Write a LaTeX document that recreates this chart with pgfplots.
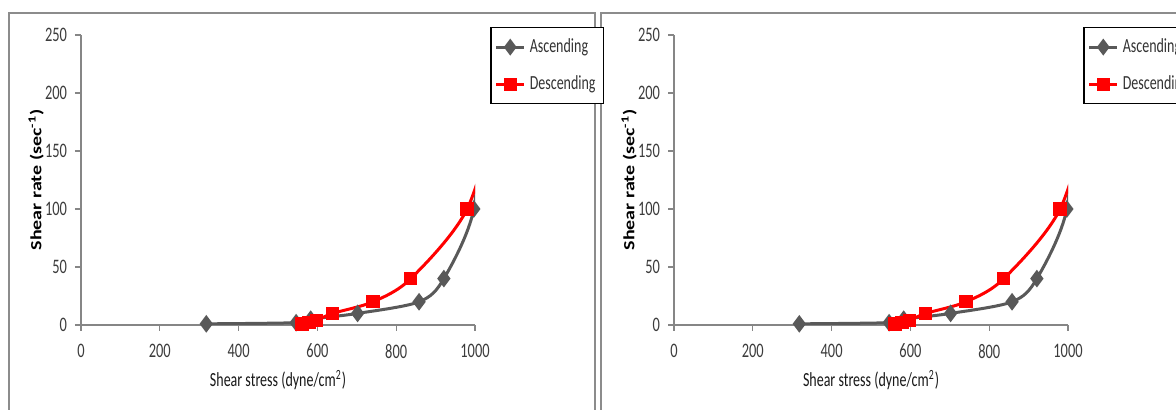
\documentclass[border=0pt]{standalone}
\usepackage{graphicx}
\usepackage{pgfplots}
\pgfplotsset{compat=1.18}
\usepackage{pgfplotstable}
\usepackage{fontspec}
\setmainfont{Carlito}[FakeStretch=0.7]
\newfontfamily\ylabfont{Carlito}
\definecolor{ascgray}{RGB}{89,89,89}
\definecolor{axisgray}{RGB}{134,134,134}
\definecolor{framegray}{RGB}{140,140,140}
\definecolor{ticklab}{RGB}{60,60,60}
\definecolor{descred}{RGB}{255,0,0}

% Ascending (markers)
\pgfplotstableread{
x y
318 1
546 2
583 5
702 10
858 20
921 40
997 100
}\ascmarks
% Ascending (line, continues beyond the axis)
\pgfplotstableread{
x y
318 1
546 2
583 5
702 10
858 20
921 40
997 100
1015 200
}\ascline
% Descending (markers)
\pgfplotstableread{
x y
561 1
579 2
598 4
639 10
741 20
837 40
980 100
}\descmarks
% Descending (line, continues beyond the axis)
\pgfplotstableread{
x y
561 1
579 2
598 4
639 10
741 20
837 40
980 100
1070 200
}\descline

\pgfplotsset{
  panel/.style={
    anchor=south west, scale only axis, width=197pt, height=145pt,
    xmin=0, xmax=1000, ymin=0, ymax=250,
    xtick={0,200,...,1000}, ytick={0,50,...,250},
    axis x line=bottom, axis y line=left,
    axis line style={draw=axisgray, line width=0.6pt, -},
    tick style={draw=axisgray, line width=0.6pt},
    tick align=outside, major tick length=3pt,
    /pgf/number format/assume math mode=true,
    /pgf/number format/set thousands separator={},
    tick label style={font=\fontsize{10.3}{11}\selectfont, text=ticklab},
    xticklabel style={yshift=-3pt},
    yticklabel style={xshift=-0.5pt},
    xlabel={Shear stress (dyne/cm\textsuperscript{2})},
    xlabel style={at={(axis description cs:0.5,-0.19)}, anchor=center, font=\fontsize{10}{11}\selectfont, text=black!90},
    ylabel={\scalebox{1}[0.78]{\ylabfont\bfseries Shear rate (sec\textsuperscript{-1})}},
    ylabel style={at={(axis description cs:-0.114,0.5)}, anchor=center, font=\fontsize{10}{11}\selectfont, text=black},
    legend style={at={(1.038,1.028)}, anchor=north west, draw=black, line width=0.8pt,
      font=\fontsize{10}{11}\selectfont, text=black!80, inner xsep=2pt, inner ysep=3.5pt, row sep=6pt},
    legend cell align=left,
    legend image code/.code={\draw[mark repeat=2,mark phase=2,#1] plot coordinates {(0pt,0pt) (7pt,0pt) (14pt,0pt)};},
  },
  ascstyle/.style={color=ascgray, line width=1.5pt},
  descstyle/.style={color=descred, line width=1.5pt},
}

\newcommand{\panelplots}{%
  \addlegendimage{ascstyle, mark=diamond*, mark size=3pt}
  \addlegendentry{Ascending}
  \addlegendimage{descstyle, mark=square*, mark size=2.5pt}
  \addlegendentry{Descending}
  \addplot[ascstyle, smooth, no marks, forget plot] table[x=x,y=y] {\ascline};
  \addplot[ascstyle, only marks, mark=diamond*, mark size=3.2pt, forget plot] table[x=x,y=y] {\ascmarks};
  \addplot[descstyle, smooth, no marks, forget plot] table[x=x,y=y] {\descline};
  \addplot[descstyle, only marks, mark=square*, mark size=2.6pt, forget plot] table[x=x,y=y] {\descmarks};
}

\begin{document}
\begin{tikzpicture}
\path[use as bounding box] (0,0) rectangle (588pt,205pt);
\clip (0,0) rectangle (588pt,205pt);
\fill[white] (0,0) rectangle (588pt,205pt);
\draw[framegray, line width=0.6pt] (4.5pt,198.5pt) rectangle (297.5pt,-10pt);
\draw[framegray, line width=0.6pt] (300.5pt,198.5pt) rectangle (640pt,-10pt);
\begin{axis}[panel, at={(40.5pt,42.5pt)}]
\panelplots
\end{axis}
\begin{axis}[panel, at={(337pt,42.5pt)}]
\panelplots
\end{axis}
\end{tikzpicture}
\end{document}
